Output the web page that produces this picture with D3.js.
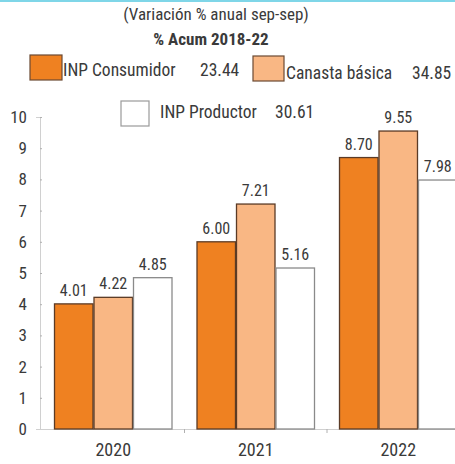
<!DOCTYPE html>
<html><head><meta charset="utf-8">
<script src="https://cdn.jsdelivr.net/npm/d3@7"></script>
<style>
html,body{margin:0;padding:0;background:#fff;overflow:hidden}
svg text{font-family:"Roboto Condensed","Liberation Sans Narrow","DejaVu Sans Condensed","DejaVu Sans",sans-serif;font-stretch:condensed;fill:#3a3a3a}
</style></head>
<body>
<svg id="c" width="455" height="464"></svg>
<script>
const years = ["2020","2021","2022"];
const seriesNames = ["INP Consumidor","Canasta básica","INP Productor"];
const consumidor = [4.01, 6.00, 8.70];
const canasta = [4.22, 7.21, 9.55];
const productor = [4.85, 5.16, 7.98];
const acumulado = ["23.44","34.85","30.61"];
const yTicks = [0,1,2,3,4,5,6,7,8,9,10];
const titleText = "(Variación % anual sep-sep)";
const subtitleText = "% Acum 2018-22";

const colors = ["#ef8121","#f9b784","#ffffff"];
const strokes = ["#5b3b26","#5b3b26","#8a8a8a"];
const values = [consumidor, canasta, productor];

const svg = d3.select("#c");
svg.append("rect").attr("x",0).attr("y",0).attr("width",455).attr("height",2).attr("fill","#7fd6e8");

const y = d3.scaleLinear().domain([0,10]).range([429,117]);
const x0 = d3.scaleBand().domain(years).range([42,469.5]).paddingInner(24/142.5).paddingOuter(12/142.5);
const x1 = d3.scaleBand().domain(d3.range(3)).range([0,x0.bandwidth()]);

const yAxis = svg.append("g").attr("transform","translate(40,0)")
  .call(d3.axisLeft(y).tickValues(yTicks).tickSize(4).tickPadding(9).tickFormat(d3.format("d")));
yAxis.select(".domain").attr("stroke","#d0d0d0");
yAxis.selectAll(".tick line").attr("stroke","#b0b0b0").attr("x2",2);
yAxis.selectAll(".tick text").style("font-size","17px").attr("fill","#3a3a3a");

svg.append("line").attr("x1",40).attr("x2",455).attr("y1",y(0)+0.5).attr("y2",y(0)+0.5).attr("stroke","#d0d0d0");
years.slice(1).forEach(yr=>{
  const xs = x0(yr) - (x0.step()-x0.bandwidth())/2;
  svg.append("line").attr("x1",xs).attr("x2",xs).attr("y1",y(0)).attr("y2",y(0)+4).attr("stroke","#b0b0b0");
});
svg.selectAll(".cat").data(years).enter().append("text")
  .attr("x",d=>x0(d)+x0.bandwidth()/2).attr("y",456).attr("text-anchor","middle")
  .style("font-size","18px").text(d=>d);

years.forEach((yr,i)=>{
  const g = svg.append("g").attr("transform",`translate(${x0(yr)},0)`);
  values.forEach((vals,s)=>{
    const v = vals[i];
    g.append("rect").attr("x",x1(s)+0.5).attr("y",y(v)).attr("width",x1.bandwidth()-1).attr("height",y(0)-y(v))
      .attr("fill",colors[s]).attr("stroke",strokes[s]).attr("stroke-width",1.3);
    g.append("text").attr("x",x1(s)+x1.bandwidth()/2).attr("y",y(v)-8).attr("text-anchor","middle")
      .style("font-size","16px").text(d3.format(".2f")(v));
  });
});

svg.append("text").attr("x",216).attr("y",20).attr("text-anchor","middle").style("font-size","17px").text(titleText);
svg.append("text").attr("x",211).attr("y",45).attr("text-anchor","middle").style("font-size","17px").style("font-weight","bold").attr("fill","#222").text(subtitleText);

const legendItems = [
  {box:[30,55,32,25], tx:63, ty:76, vx:200, name:seriesNames[0], val:acumulado[0]},
  {box:[253,56,31,25], tx:286, ty:79, vx:412, name:seriesNames[1], val:acumulado[1]},
  {box:[121,101,28,25], tx:160, ty:118, vx:275, name:seriesNames[2], val:acumulado[2]}
];
legendItems.forEach((it,s)=>{
  svg.append("rect").attr("x",it.box[0]).attr("y",it.box[1]).attr("width",it.box[2]).attr("height",it.box[3])
    .attr("fill",colors[s]).attr("stroke",s===2?"#9a9a9a":"#6b4a33").attr("stroke-width",1.2);
  svg.append("text").attr("x",it.tx).attr("y",it.ty).style("font-size","17.5px").text(it.name);
  svg.append("text").attr("x",it.vx).attr("y",it.ty).style("font-size","17.5px").text(it.val);
});
</script>
</body></html>
